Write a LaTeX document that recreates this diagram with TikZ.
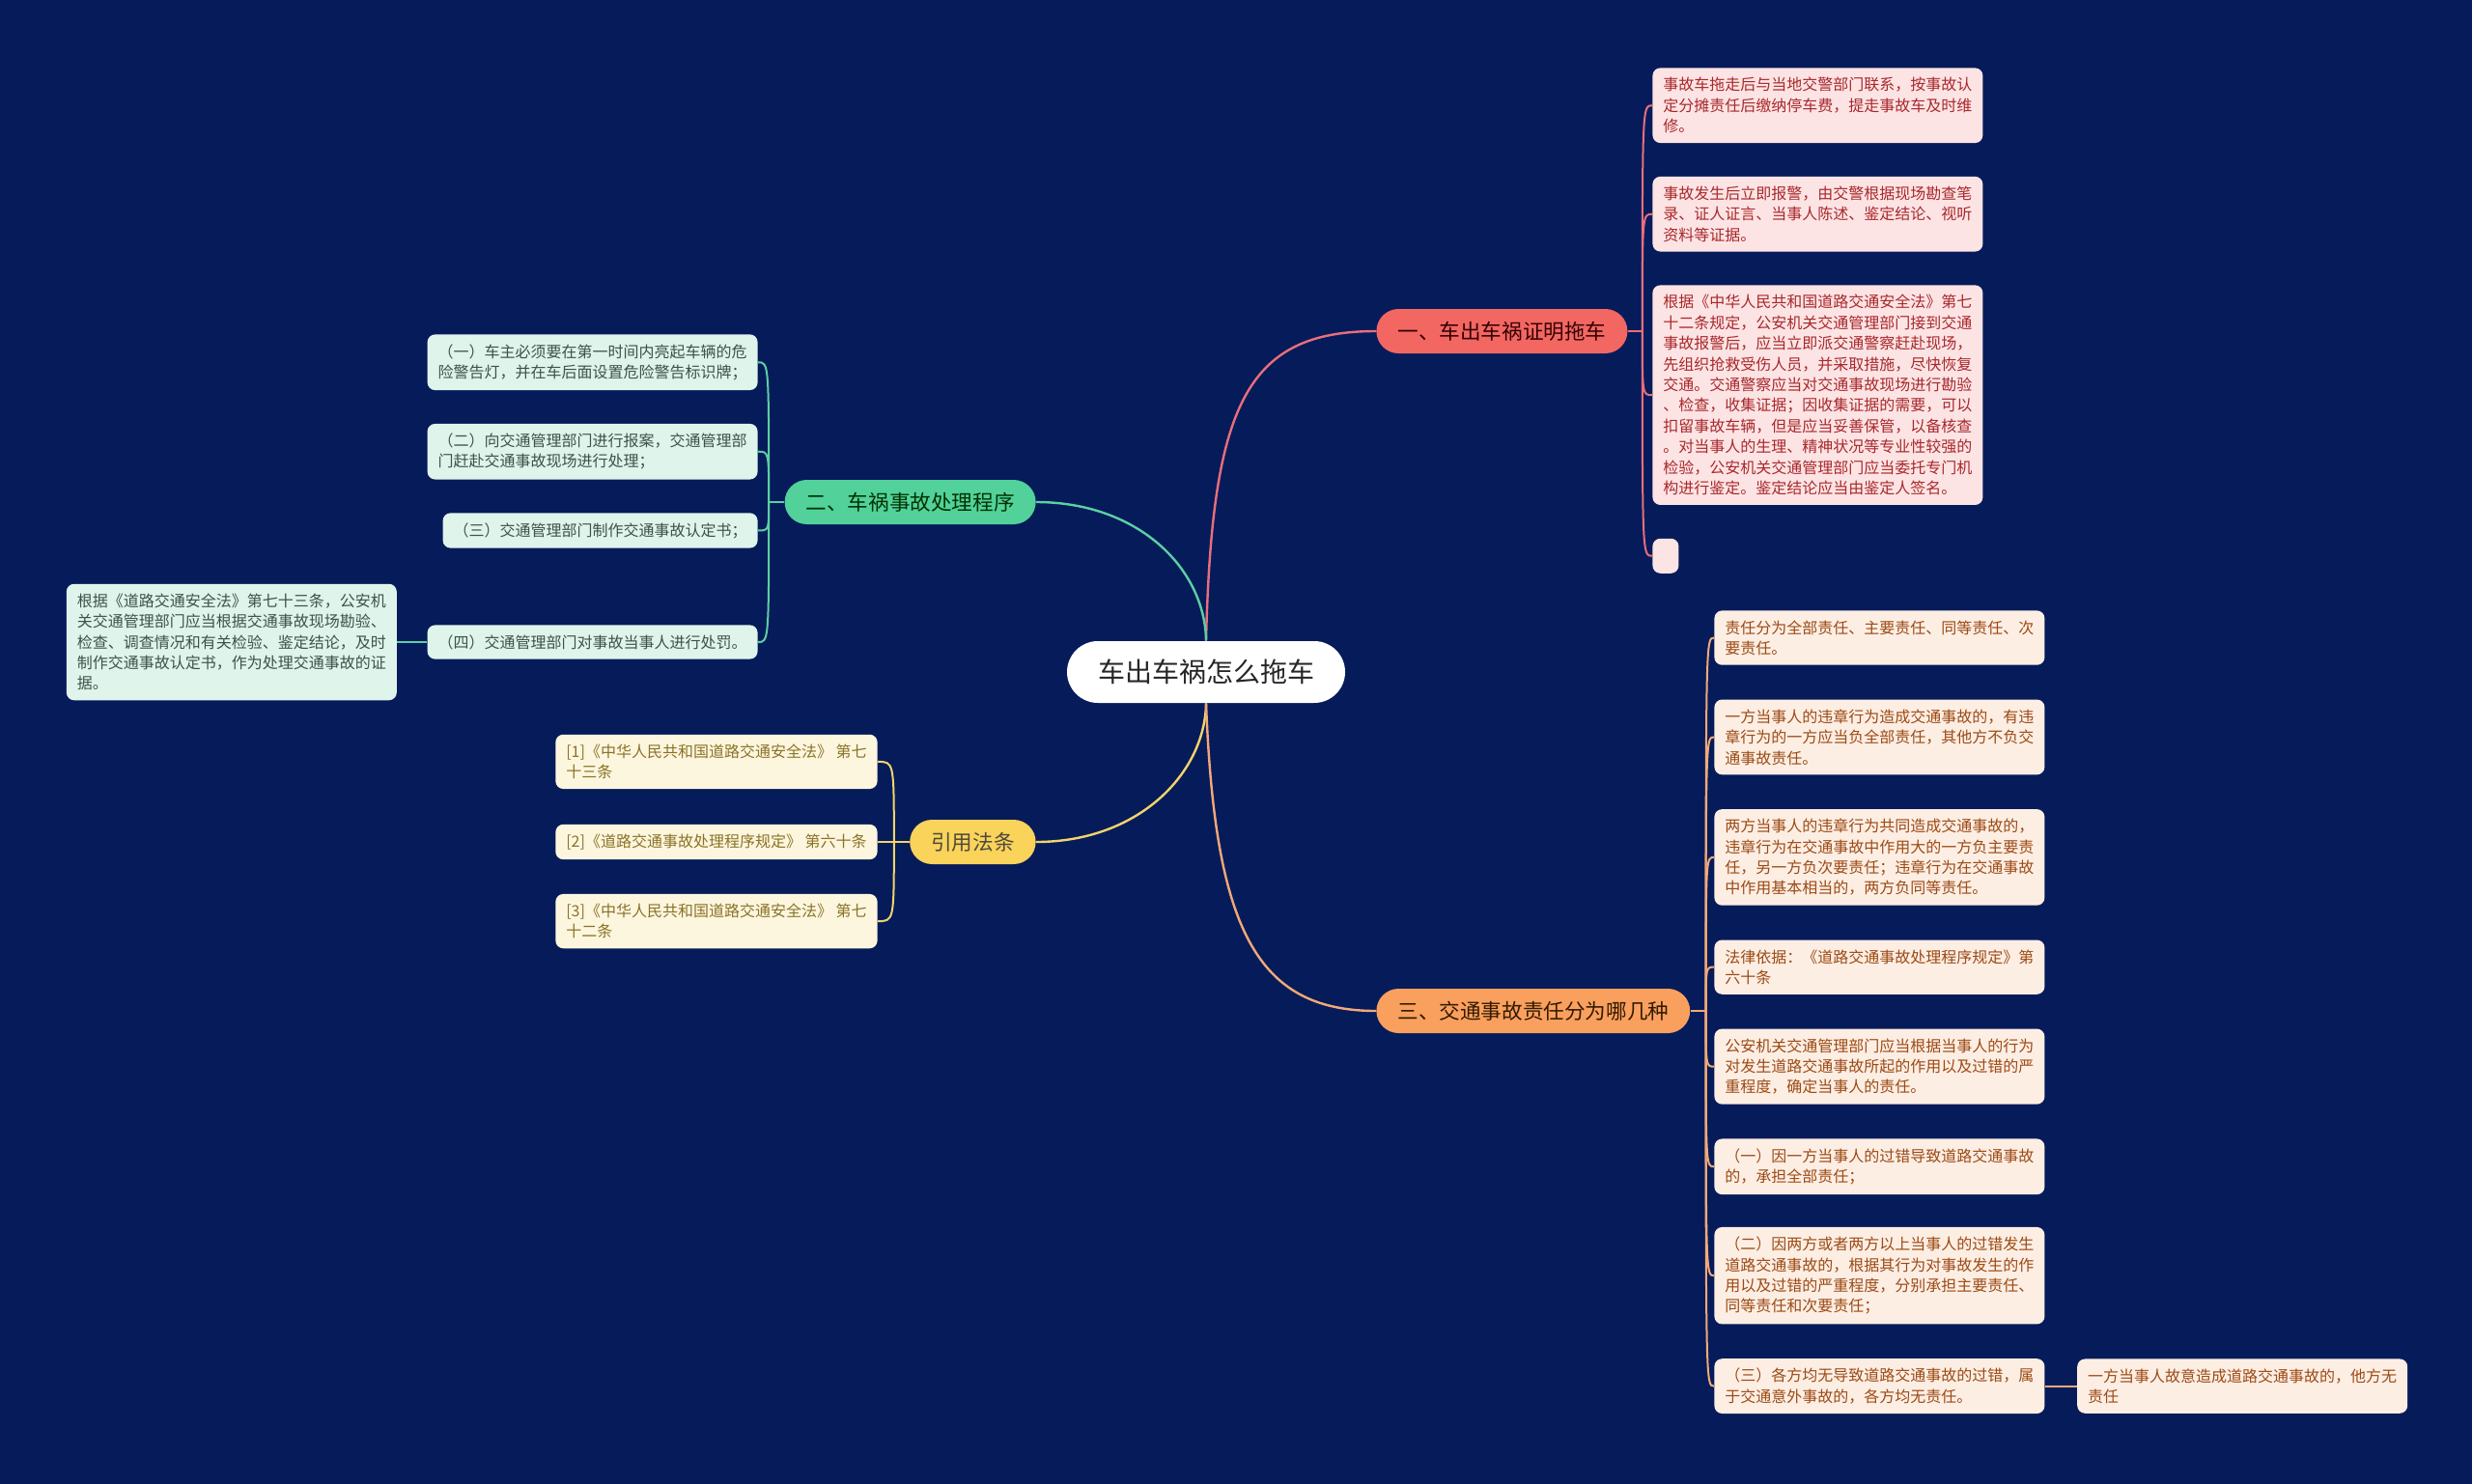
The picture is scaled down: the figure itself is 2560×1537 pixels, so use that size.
\documentclass[tikz,border=0pt]{standalone}
\usepackage{fontspec}
\setmainfont{Noto Sans CJK SC}
\usepackage{tikz}
\usetikzlibrary{positioning}

\definecolor{navybg}{RGB}{6,27,90}
\definecolor{redmain}{HTML}{F36763}
\definecolor{redline}{HTML}{E86F7B}
\definecolor{redfill}{HTML}{FDE4E4}
\definecolor{redtext}{HTML}{A8282C}
\definecolor{greenmain}{HTML}{52D19B}
\definecolor{greenline}{HTML}{5CCFA4}
\definecolor{greenfill}{HTML}{DFF5EB}
\definecolor{greentext}{HTML}{3D5249}
\definecolor{yellowmain}{HTML}{F9D35A}
\definecolor{yellowline}{HTML}{F2D46A}
\definecolor{yellowfill}{HTML}{FDF6DE}
\definecolor{yellowtext}{HTML}{8A7327}
\definecolor{orangemain}{HTML}{F9A05E}
\definecolor{orangeline}{HTML}{F2A977}
\definecolor{orangefill}{HTML}{FDEEE4}
\definecolor{orangetext}{HTML}{9C4A14}

\begin{document}
\begin{tikzpicture}[
  x=0.5pt, y=-0.5pt,
  topic/.style={rectangle, fill=white, text=black!85, rounded corners=16pt, minimum height=32pt, inner xsep=16pt, font=\fontsize{14}{16}\selectfont},
  branch/.style={rectangle, rounded corners=11.5pt, minimum height=23pt, inner xsep=11pt, font=\fontsize{10.8}{12}\selectfont},
  leaf/.style={rectangle, rounded corners=4pt, align=left, inner xsep=5.5pt, inner ysep=5pt, font=\fontsize{8}{10.7}\selectfont},
  redleaf/.style={leaf, fill=redfill, text=redtext},
  greenleaf/.style={leaf, fill=greenfill, text=greentext},
  yellowleaf/.style={leaf, fill=yellowfill, text=yellowtext},
  orangeleaf/.style={leaf, fill=orangefill, text=orangetext},
  mainlink/.style={line width=1.2pt},
  leaflink/.style={line width=1pt}
]
\useasboundingbox (0,0) rectangle (2560,1537);
\fill[navybg] (0,0) rectangle (2560,1537);

% centre and the four branches
\node[topic] (root) at (1249,696) {车出车祸怎么拖车};
\node[branch, fill=redmain, text=black!80!red, anchor=west] (b1) at (1425,343) {一、车出车祸证明拖车};
\node[branch, fill=greenmain, text=black!80!green, anchor=east] (b2) at (1073,520) {二、车祸事故处理程序};
\node[branch, fill=yellowmain, text=black!80!yellow, anchor=east] (b3) at (1073,872) {引用法条};
\node[branch, fill=orangemain, text=black!80!orange, anchor=west] (b4) at (1425,1047) {三、交通事故责任分为哪几种};

\coordinate[right=7.5pt of b1] (h1);
\coordinate[left=8pt of b2] (h2);
\coordinate[left=8pt of b3] (h3);
\coordinate[right=8pt of b4] (h4);

% branch one
\node[redleaf, anchor=north west] (r1) at (1711,70) {事故车拖走后与当地交警部门联系，按事故认\\定分摊责任后缴纳停车费，提走事故车及时维\\修。};
\node[redleaf, below=17pt of r1.south west, anchor=north west] (r2) {事故发生后立即报警，由交警根据现场勘查笔\\录、证人证言、当事人陈述、鉴定结论、视听\\资料等证据。};
\node[redleaf, below=17pt of r2.south west, anchor=north west] (r3) {根据《中华人民共和国道路交通安全法》第七\\十二条规定，公安机关交通管理部门接到交通\\事故报警后，应当立即派交通警察赶赴现场，\\先组织抢救受伤人员，并采取措施，尽快恢复\\交通。交通警察应当对交通事故现场进行勘验\\、检查，收集证据；因收集证据的需要，可以\\扣留事故车辆，但是应当妥善保管，以备核查\\。对当事人的生理、精神状况等专业性较强的\\检验，公安机关交通管理部门应当委托专门机\\构进行鉴定。鉴定结论应当由鉴定人签名。};
\node[redleaf, minimum width=13.5pt, minimum height=18pt, below=17pt of r3.south west, anchor=north west] (r4) {};

% branch two
\node[greenleaf, anchor=north east] (g1) at (785,346) {（一）车主必须要在第一时间内亮起车辆的危\\险警告灯，并在车后面设置危险警告标识牌；};
\node[greenleaf, below=17pt of g1.south east, anchor=north east] (g2) {（二）向交通管理部门进行报案，交通管理部\\门赶赴交通事故现场进行处理；};
\node[greenleaf, below=17pt of g2.south east, anchor=north east] (g3) {（三）交通管理部门制作交通事故认定书；};
\node[greenleaf, anchor=east] (g4) at (785,665) {（四）交通管理部门对事故当事人进行处罚。};
\node[greenleaf, left=15.5pt of g4] (g5) {根据《道路交通安全法》第七十三条，公安机\\关交通管理部门应当根据交通事故现场勘验、\\检查、调查情况和有关检验、鉴定结论，及时\\制作交通事故认定书，作为处理交通事故的证\\据。};

% cited articles
\node[yellowleaf, anchor=east] (y2) at (909,872) {[2]《道路交通事故处理程序规定》 第六十条};
\node[yellowleaf, above=18pt of y2.north east, anchor=south east] (y1) {[1]《中华人民共和国道路交通安全法》 第七\\十三条};
\node[yellowleaf, below=17.5pt of y2.south east, anchor=north east] (y3) {[3]《中华人民共和国道路交通安全法》 第七\\十二条};

% branch three
\node[orangeleaf, anchor=north west] (o1) at (1775,632) {责任分为全部责任、主要责任、同等责任、次\\要责任。};
\node[orangeleaf, below=17.5pt of o1.south west, anchor=north west] (o2) {一方当事人的违章行为造成交通事故的，有违\\章行为的一方应当负全部责任，其他方不负交\\通事故责任。};
\node[orangeleaf, below=17.5pt of o2.south west, anchor=north west] (o3) {两方当事人的违章行为共同造成交通事故的，\\违章行为在交通事故中作用大的一方负主要责\\任，另一方负次要责任；违章行为在交通事故\\中作用基本相当的，两方负同等责任。};
\node[orangeleaf, below=17.5pt of o3.south west, anchor=north west] (o4) {法律依据：《道路交通事故处理程序规定》第\\六十条};
\node[orangeleaf, below=17.5pt of o4.south west, anchor=north west] (o5) {公安机关交通管理部门应当根据当事人的行为\\对发生道路交通事故所起的作用以及过错的严\\重程度，确定当事人的责任。};
\node[orangeleaf, below=17.5pt of o5.south west, anchor=north west] (o6) {（一）因一方当事人的过错导致道路交通事故\\的，承担全部责任；};
\node[orangeleaf, below=16.5pt of o6.south west, anchor=north west] (o7) {（二）因两方或者两方以上当事人的过错发生\\道路交通事故的，根据其行为对事故发生的作\\用以及过错的严重程度，分别承担主要责任、\\同等责任和次要责任；};
\node[orangeleaf, below=17.5pt of o7.south west, anchor=north west] (o8) {（三）各方均无导致道路交通事故的过错，属\\于交通意外事故的，各方均无责任。};
\node[orangeleaf, right=16.5pt of o8] (o9) {一方当事人故意造成道路交通事故的，他方无\\责任};

% links from the centre
\draw[mainlink, redline] (root.north) .. controls (1255,420) and (1290,343) .. (b1.west);
\draw[mainlink, greenline] (root.north) .. controls (1248,590) and (1180,520) .. (b2.east);
\draw[mainlink, yellowline] (root.south) .. controls (1248,800) and (1180,872) .. (b3.east);
\draw[mainlink, orangeline] (root.south) .. controls (1258,960) and (1300,1047) .. (b4.west);

% links to the leaves
\draw[leaflink, redline] (b1.east) -- (h1);
\foreach \n in {r1,r2,r3,r4}
  \draw[leaflink, redline] (h1) .. controls (h1 |- \n.west) .. (\n.west);
\draw[leaflink, greenline] (b2.west) -- (h2);
\foreach \n in {g1,g2,g3,g4}
  \draw[leaflink, greenline] (h2) .. controls (h2 |- \n.east) .. (\n.east);
\draw[leaflink, greenline] (g4.west) -- (g5.east);
\draw[leaflink, yellowline] (b3.west) -- (h3);
\foreach \n in {y1,y2,y3}
  \draw[leaflink, yellowline] (h3) .. controls (h3 |- \n.east) .. (\n.east);
\draw[leaflink, orangeline] (b4.east) -- (h4);
\foreach \n in {o1,o2,o3,o4,o5,o6,o7,o8}
  \draw[leaflink, orangeline] (h4) .. controls (h4 |- \n.west) .. (\n.west);
\draw[leaflink, orangeline] (o8.east) -- (o9.west);

\end{tikzpicture}
\end{document}
